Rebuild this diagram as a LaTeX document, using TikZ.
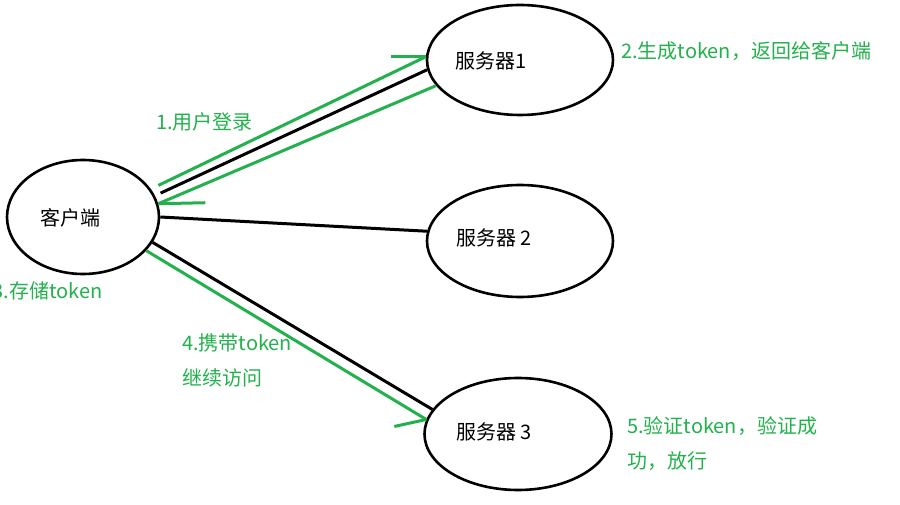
\documentclass[tikz,border=0pt]{standalone}
\usepackage{fontspec}
\setmainfont{Noto Sans CJK SC}
\usetikzlibrary{shapes.geometric}
\definecolor{pgreen}{RGB}{34,177,76}
\begin{document}
\begin{tikzpicture}[x=1pt,y=-1pt,
  oval/.style={draw=black,line width=2.6pt,ellipse,inner sep=0pt},
  blk/.style={draw=black,line width=3pt},
  grn/.style={draw=pgreen,line width=3pt},
  lbl/.style={inner sep=0pt,font=\fontsize{20}{24}\selectfont,text=black},
  glbl/.style={inner sep=0pt,anchor=west,font=\fontsize{20}{24}\selectfont,text=pgreen}]
\useasboundingbox (0,0) rectangle (900,505);
% ellipses
\node[oval,minimum width=152pt,minimum height=114pt] (cl) at (83,217) {};
\node[oval,minimum width=186pt,minimum height=110pt] (s1) at (520,60) {};
\node[oval,minimum width=186pt,minimum height=112pt] (s2) at (520,241) {};
\node[oval,minimum width=187pt,minimum height=112pt] (s3) at (518,434) {};
% node texts
\node[lbl] (tcl) at (70,218) {客户端};
\node[lbl] (ts1) at (491,61) {服务器1};
\node[lbl] (ts2) at (494,238) {服务器 2};
\node[lbl] (ts3) at (494,432) {服务器 3};
% black connectors
\draw[blk] ([shift={(6,-2)}]cl.17) -- (s1.186);
\draw[blk] (cl.0) -- (s2.174);
\draw[blk] (cl.-20) -- (s3.164);
% green arrows
\draw[grn] ([shift={(8,-3)}]cl.23) -- (s1.178);
\draw[grn] (s1.178) -- ++(-35,0);
\draw[grn] (s1.197) -- (cl.10);
\draw[grn] (cl.10) -- ++(47,-1);
\draw[grn] (cl.-28) -- (s3.171);
\draw[grn] (s3.171) -- ++(-32,7);
% green labels
\node[glbl] (l1) at (156,122) {1.用户登录};
\node[glbl] (l2) at (621,51) {2.生成token，返回给客户端};
\node[glbl,anchor=east] (l3) at (103,291) {3.存储token};
\node[glbl] (l4a) at (182,343) {4.携带token};
\node[glbl] (l4b) at (182,378) {继续访问};
\node[glbl] (l5a) at (627,426) {5.验证token，验证成};
\node[glbl] (l5b) at (627,461) {功，放行};
\end{tikzpicture}
\end{document}
